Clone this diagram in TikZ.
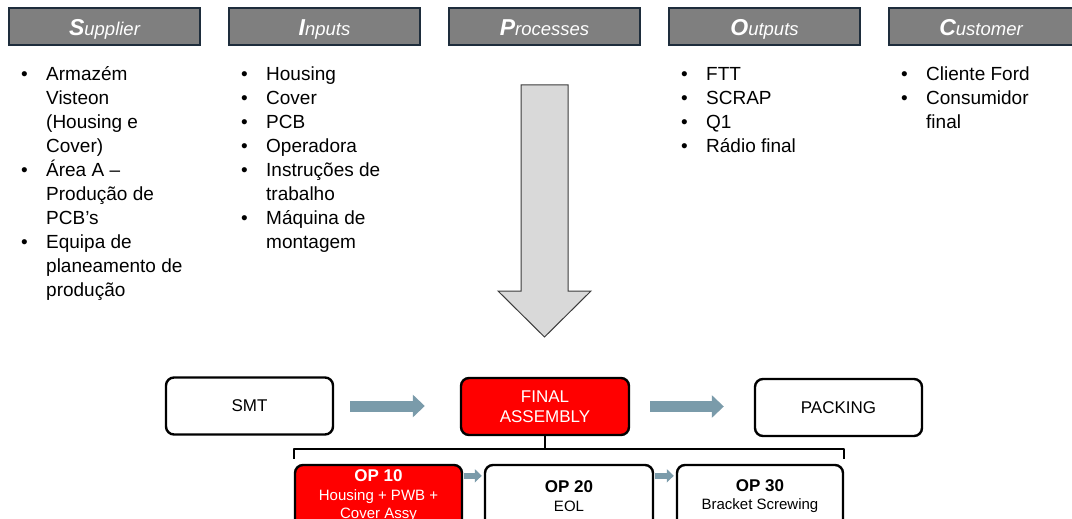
\documentclass[tikz,border=0pt]{standalone}
\usepackage{fontspec}
\setmainfont{Liberation Sans}
\usetikzlibrary{arrows.meta,calc}

\definecolor{hdrfill}{RGB}{127,127,127}
\definecolor{hdrline}{RGB}{30,45,60}
\definecolor{flowc}{RGB}{122,155,170}
\definecolor{bigfill}{RGB}{217,217,217}
\definecolor{bigline}{RGB}{60,60,60}
\definecolor{hot}{RGB}{255,0,0}

% list helpers: one bullet item, continuation lines via \newline
\newcommand\bitem[1]{\hangindent=25pt\hangafter=1\noindent\makebox[25pt][l]{•}#1\par}
\newcommand\hdrtext[2]{{\fontsize{23}{23}\selectfont\bfseries\itshape #1}{\fontsize{18.5}{19}\selectfont\itshape #2}}

\begin{document}
\begin{tikzpicture}[x=1pt,y=-1pt,
  hdr/.style={draw=hdrline,line width=1.3pt,fill=hdrfill,text=white,
    minimum width=191pt,minimum height=37pt,inner sep=0pt,
    text height=19pt,text depth=0pt},
  lst/.style={anchor=base west,inner sep=0pt,
    font=\fontsize{19}{24}\selectfont},
  flowbox/.style={draw=black,line width=2.4pt,rounded corners=8pt,
    minimum width=167pt,minimum height=57pt,inner sep=0pt,align=center,
    font=\fontsize{17}{20}\selectfont},
  opbox/.style={draw=black,line width=2.4pt,rounded corners=8pt,
    minimum width=167pt,minimum height=62pt,inner sep=0pt,align=center,
    font=\fontsize{15}{18.5}\selectfont},
  flow/.style={draw=flowc,line width=11pt,
    -{Triangle[width=22pt,length=12pt]}},
  minor/.style={draw=flowc,line width=6pt,
    -{Triangle[width=13pt,length=7pt]}},
  brk/.style={draw=black,line width=2.4pt}]

\useasboundingbox (0,0) rectangle (1072,519);
\fill[white] (0,0) rectangle (1072,519);

\begin{scope}
\clip (0,0) rectangle (1072,519);

% column headings
\node[hdr] (sup) at (104.5,26.5) {\hdrtext{S}{upplier}};
\node[hdr] (inp) at (324.5,26.5) {\hdrtext{I}{nputs}};
\node[hdr] (pro) at (544.5,26.5) {\hdrtext{P}{rocesses}};
\node[hdr] (out) at (764.5,26.5) {\hdrtext{O}{utputs}};
\node[hdr] (cus) at (981,26.5) [minimum width=184pt] {\hdrtext{C}{ustomer}};

% bullet lists
\node[lst] (supl) at (21,81) {\parbox[t]{180pt}{\raggedright
  \bitem{Armazém\newline Visteon\newline (Housing e\newline Cover)}
  \bitem{Área A –\newline Produção de\newline PCB’s}
  \bitem{Equipa de\newline planeamento de\newline produção}}};
\node[lst] (inpl) at (241,81) {\parbox[t]{180pt}{\raggedright
  \bitem{Housing}
  \bitem{Cover}
  \bitem{PCB}
  \bitem{Operadora}
  \bitem{Instruções de\newline trabalho}
  \bitem{Máquina de\newline montagem}}};
\node[lst] (outl) at (681,81) {\parbox[t]{180pt}{\raggedright
  \bitem{FTT}
  \bitem{SCRAP}
  \bitem{Q1}
  \bitem{Rádio final}}};
\node[lst] (cusl) at (901,81) {\parbox[t]{170pt}{\raggedright
  \bitem{Cliente Ford}
  \bitem{Consumidor\newline final}}};

% large downward arrow
\draw[fill=bigfill,draw=bigline,line width=1pt,line join=miter]
  (521,85) -- (568,85) -- (568,291) -- (591,291) -- (544.5,337)
  -- (498,291) -- (521,291) -- cycle;

% main flow
\node[flowbox] (smt) at (249.5,406) {SMT};
\node[flowbox,fill=hot,text=white,minimum width=168pt] (fa) at (545,406.5) {FINAL\\ASSEMBLY};
\node[flowbox] (pack) at (838.5,407.5) {PACKING};

\draw[flow,shorten <=16pt,shorten >=35pt] (smt.east) -- (smt.east -| fa.west);
\draw[flow,shorten <=20pt,shorten >=30pt] (fa.east) -- (fa.east -| pack.west);

% operations
\node[opbox,fill=hot,text=white] (op10) at (378.5,496) {\textbf{\fontsize{17}{18.5}\selectfont OP 10}\\Housing + PWB +\\Cover Assy};
\node[opbox,minimum width=168pt] (op20) at (569,496) {\textbf{\fontsize{17}{18.5}\selectfont OP 20}\\EOL};
\node[opbox,minimum width=166pt] (op30) at (760,496) {\textbf{\fontsize{17}{18.5}\selectfont OP 30}\\Bracket Screwing};

\draw[minor] ($(op10.north east)+(1,12)$) -- ($(op20.north west)+(-2,12)$);
\draw[minor] ($(op20.north east)+(1,12)$) -- ($(op30.north west)+(-2,12)$);

% bracket joining the operations to final assembly
\coordinate (bj) at ($(fa.south)+(0,13)$);
\draw[brk] (fa.south) -- (bj);
\draw[brk,line join=round] ([yshift=5pt]op10.north west) |- (bj) -| ([yshift=5pt]op30.north east);
\end{scope}
\end{tikzpicture}
\end{document}
